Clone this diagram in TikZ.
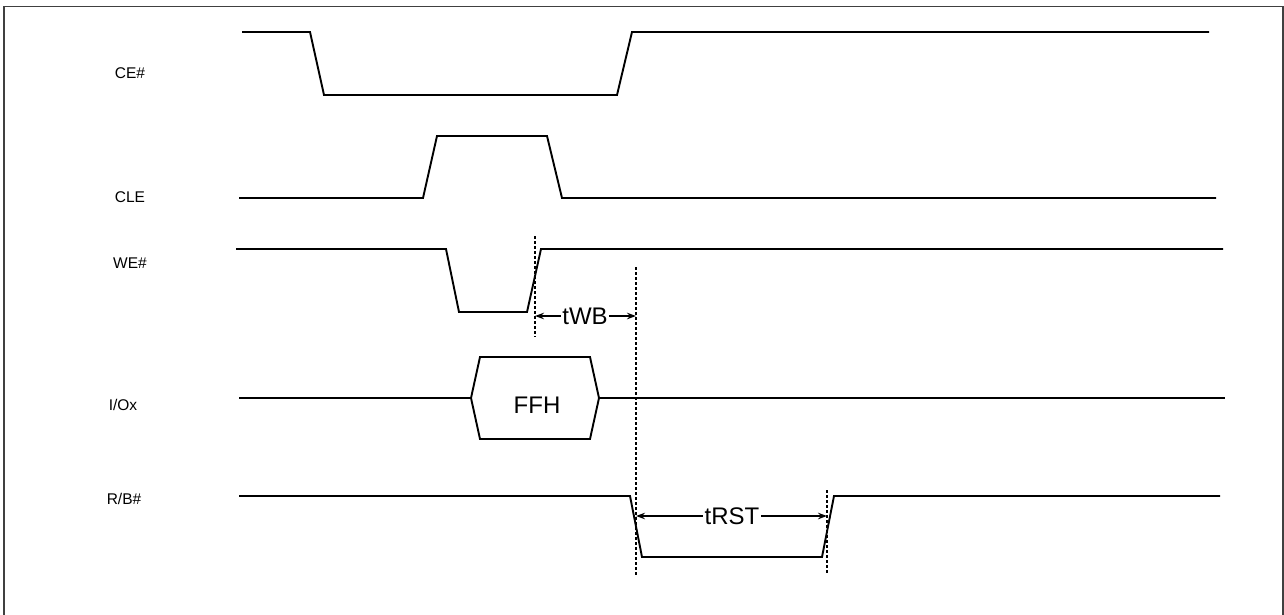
\documentclass[tikz,border=0pt]{standalone}
\usepackage{fontspec}
\setmainfont{Liberation Sans}
\usetikzlibrary{arrows.meta}
\begin{document}
\begin{tikzpicture}[x=1pt,y=-1pt,
 sig/.style={line width=1.9pt, line join=miter},
 lbl/.style={font=\fontsize{15.5}{18}\selectfont, inner sep=0pt},
 big/.style={font=\fontsize{24}{28}\selectfont, inner sep=1.5pt},
 guide/.style={line width=1.2pt, dash pattern=on 3pt off 2pt},
 dim/.style={line width=1.5pt, -{Stealth[length=9pt,width=6.5pt]}}]
\useasboundingbox (0,0) rectangle (1284,614);
\draw[black!75, line width=1.5pt] (4,6.5) rectangle (1283,625);
% labels
\node[lbl] (lce) at (130,73) {CE\#};
\node[lbl] (lcle) at (130,197) {CLE};
\node[lbl] (lwe) at (130,263) {WE\#};
\node[lbl] (lio) at (123,405) {I/Ox};
\node[lbl] (lrb) at (124,499) {R/B\#};
% signals
\draw[sig] (242,32) -- (310,32) -- (324,95) -- (617,95) -- (632,32) -- (1209,32);
\draw[sig] (239,198) -- (423,198) -- (437,136) -- (547,136) -- (562,198) -- (1216,198);
\draw[sig] (236,249) -- (446,249) -- (459,312) -- (527,312) -- (541,249) -- (1223,249);
\draw[sig] (239,398) -- (471,398);
\draw[sig] (471,398) -- (480,357) -- (590,357) -- (599,398) -- (590,439) -- (480,439) -- cycle;
\draw[sig] (599,398) -- (1225,398);
\draw[sig] (239,496) -- (630,496) -- (642,557) -- (822,557) -- (834,496) -- (1220,496);
\node[big] (ffh) at (537,405) {FFH};
% guides
\coordinate (g1a) at (535,236); \coordinate (g1b) at (535,337);
\coordinate (g2a) at (636,267); \coordinate (g2b) at (636,575);
\coordinate (g3a) at (827,490); \coordinate (g3b) at (827,573);
\draw[guide] (g1a) -- (g1b);
\draw[guide] (g2a) -- (g2b);
\draw[guide] (g3a) -- (g3b);
% dimensions
\node[big] (twb) at (585,316) {tWB};
\coordinate (twbL) at (535,316); \coordinate (twbR) at (636,316);
\draw[dim] (twb.west) -- (twbL);
\draw[dim] (twb.east) -- (twbR);
\node[big] (trst) at (732,516) {tRST};
\coordinate (trstL) at (636,516); \coordinate (trstR) at (827,516);
\draw[dim] (trst.west) -- (trstL);
\draw[dim] (trst.east) -- (trstR);
\end{tikzpicture}
\end{document}
